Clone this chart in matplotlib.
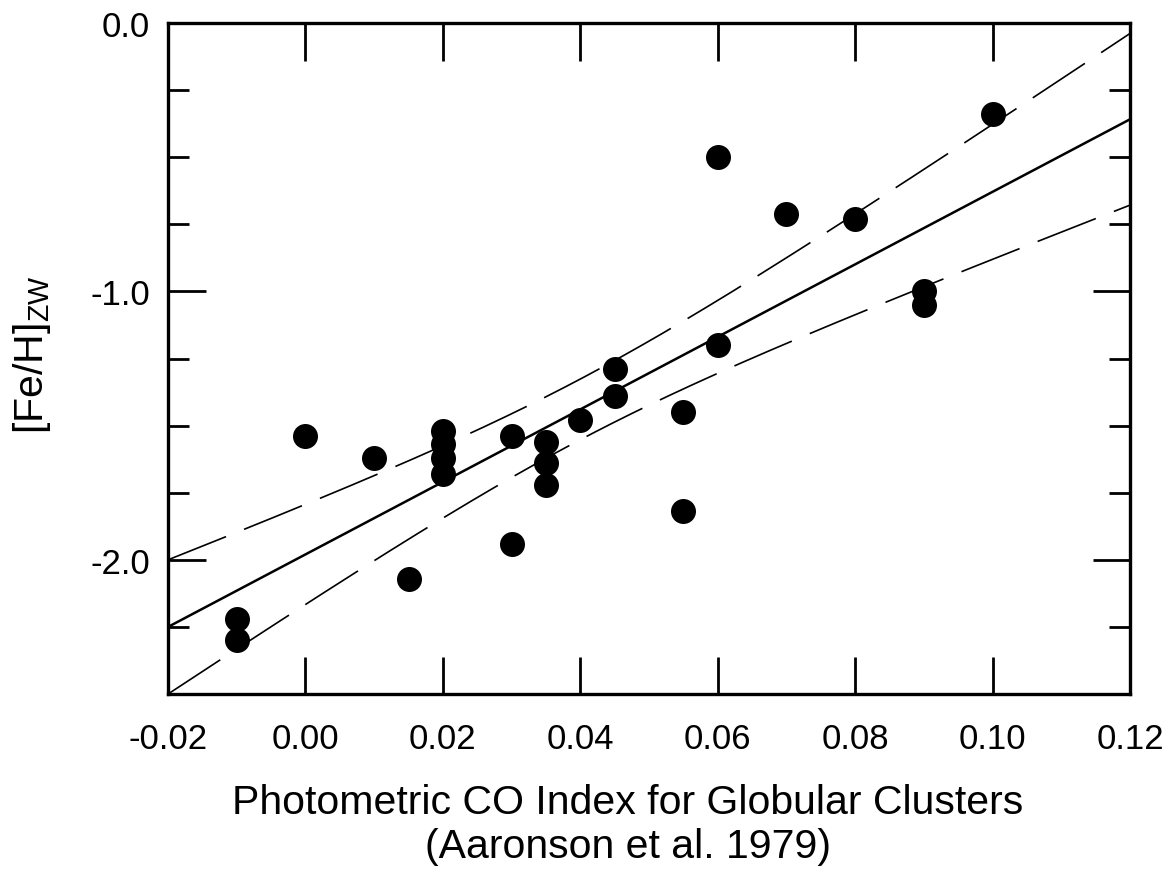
import numpy as np
import matplotlib
matplotlib.use("Agg")
import matplotlib.pyplot as plt
from matplotlib.ticker import MultipleLocator, FormatStrFormatter

plt.rcParams['font.family'] = ['Liberation Sans', 'DejaVu Sans']
plt.rcParams['mathtext.fontset'] = 'custom'
plt.rcParams['mathtext.rm'] = 'Liberation Sans'
plt.rcParams['lines.scale_dashes'] = False

# globular clusters: CO index vs [Fe/H] (Zinn & West)
co_index = [-0.01, -0.01, 0.00, 0.01, 0.015, 0.02, 0.02, 0.02, 0.02,
            0.03, 0.03, 0.035, 0.035, 0.035, 0.04, 0.045, 0.045,
            0.055, 0.055, 0.06, 0.06, 0.07, 0.08, 0.09, 0.09, 0.10]
feh_zw = [-2.22, -2.30, -1.54, -1.62, -2.07, -1.52, -1.57, -1.62, -1.68,
          -1.54, -1.94, -1.56, -1.64, -1.72, -1.48, -1.29, -1.39,
          -1.45, -1.82, -0.50, -1.20, -0.71, -0.73, -1.00, -1.05, -0.34]

# linear fit and confidence band
fit_slope = 13.51
fit_icpt = -1.980
band_min = 0.113      # half width at band centre
band_grow = 3.73
band_x0 = 0.0398

fig = plt.figure(figsize=(11.75, 8.78), dpi=100)
ax = fig.add_axes([168/1175, 1-695/878, (1130-168)/1175, (695-24)/878])

xx = np.linspace(-0.02, 0.12, 300)
yy = fit_icpt + fit_slope*xx
hw = np.sqrt(band_min**2 + band_grow**2*(xx-band_x0)**2)
ax.plot(xx, yy, color='black', lw=1.8)
ax.plot(xx, yy+hw, color='black', lw=1.2, dashes=(45, 14))
ax.plot(xx, yy-hw, color='black', lw=1.2, dashes=(45, 14))

ax.plot(co_index, feh_zw, 'o', color='black', ms=18, mew=0)

ax.set_xlim(-0.02, 0.12)
ax.set_ylim(-2.5, 0.0)
ax.xaxis.set_major_locator(MultipleLocator(0.02))
ax.xaxis.set_major_formatter(FormatStrFormatter('%.2f'))
ax.yaxis.set_major_locator(MultipleLocator(1.0))
ax.yaxis.set_minor_locator(MultipleLocator(0.25))
ax.yaxis.set_major_formatter(FormatStrFormatter('%.1f'))

ax.tick_params(which='both', direction='in', top=True, right=True,
               width=2, labelsize=25)
ax.tick_params(which='major', length=27)
ax.tick_params(which='minor', length=15)
ax.tick_params(axis='x', pad=20)
ax.tick_params(axis='y', pad=13)
for s in ax.spines.values():
    s.set_linewidth(2.4)

fig.text(628/1175, 1-825/878, "Photometric CO Index for Globular Clusters\n(Aaronson et al. 1979)",
         ha='center', va='center', fontsize=29.5, linespacing=1.2)
fig.text(32/1175, 1-355/878, r"[Fe/H]$_{\mathregular{ZW}}$", rotation=90,
         ha='center', va='center', fontsize=29.5)

fig.savefig("out.png", dpi=100)
